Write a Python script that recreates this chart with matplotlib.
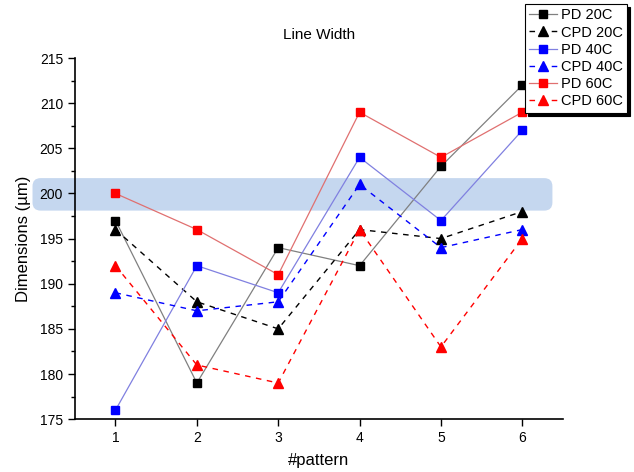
import matplotlib.pyplot as plt
from matplotlib.patches import FancyBboxPatch

plt.rcParams['font.family'] = ['Liberation Sans', 'DejaVu Sans']

# Input Data
patterns = [1, 2, 3, 4, 5, 6]
pd_20c = [197, 179, 194, 192, 203, 212]
cpd_20c = [196, 188, 185, 196, 195, 198]
pd_40c = [176, 192, 189, 204, 197, 207]
cpd_40c = [189, 187, 188, 201, 194, 196]
pd_60c = [200, 196, 191, 209, 204, 209]
cpd_60c = [192, 181, 179, 196, 183, 195]

# target band
band_lo, band_hi = 198.1, 201.7

fig = plt.figure(figsize=(6.34, 4.72), dpi=100)
ax = fig.add_axes([0.118, 0.112, 0.770, 0.765])

# band that runs past the y axis on the left
band = FancyBboxPatch((-0.02, band_lo), 6.39, band_hi - band_lo,
                      boxstyle="round,pad=0,rounding_size=0.1",
                      mutation_aspect=81.4 / 9.03,
                      facecolor='#c5d7ef', edgecolor='none',
                      clip_on=False, zorder=0)
ax.add_patch(band)

ax.plot(patterns, pd_20c, color='gray', lw=0.9, marker='s', ms=6,
        mfc='black', mec='black', label='PD 20C')
ax.plot(patterns, cpd_20c, color='black', lw=1.0, ls=(0, (4, 4)), marker='^', ms=7,
        mfc='black', mec='black', label='CPD 20C')
ax.plot(patterns, pd_40c, color='#8080e0', lw=0.9, marker='s', ms=6,
        mfc='blue', mec='blue', label='PD 40C')
ax.plot(patterns, cpd_40c, color='blue', lw=1.0, ls=(0, (4, 4)), marker='^', ms=7,
        mfc='blue', mec='blue', label='CPD 40C')
ax.plot(patterns, pd_60c, color='#e07070', lw=0.9, marker='s', ms=6,
        mfc='red', mec='red', label='PD 60C')
ax.plot(patterns, cpd_60c, color='red', lw=1.0, ls=(0, (4, 4)), marker='^', ms=7,
        mfc='red', mec='red', label='CPD 60C')

ax.set_xlim(0.5, 6.5)
ax.set_ylim(175, 215)
ax.set_xticks(patterns)
ax.set_yticks(range(175, 216, 5))
ax.set_yticks([177.5 + 5 * i for i in range(8)], minor=True)
ax.tick_params(axis='both', which='major', direction='out', length=5, width=1, labelsize=10)
ax.tick_params(axis='y', which='minor', direction='out', length=3, width=1)
ax.spines['top'].set_visible(False)
ax.spines['right'].set_visible(False)
ax.spines['left'].set_linewidth(1.2)
ax.spines['bottom'].set_linewidth(1.2)

ax.set_title("Line Width", fontsize=11, pad=14)
ax.set_xlabel("#pattern", fontsize=12, labelpad=6)
ax.set_ylabel("Dimensions (\u00b5m)", fontsize=12, labelpad=6)

leg = ax.legend(loc='upper right', bbox_to_anchor=(627 / 634, 1 - 4 / 472),
                bbox_transform=fig.transFigure, fontsize=10.5, fancybox=False,
                framealpha=1, edgecolor='black', handlelength=1.9,
                handletextpad=0.25, labelspacing=0.22, borderpad=0.3,
                borderaxespad=0,
                shadow={'color': 'black', 'alpha': 1})
leg.get_frame().set_linewidth(0.8)

fig.savefig("out.png", dpi=100)
